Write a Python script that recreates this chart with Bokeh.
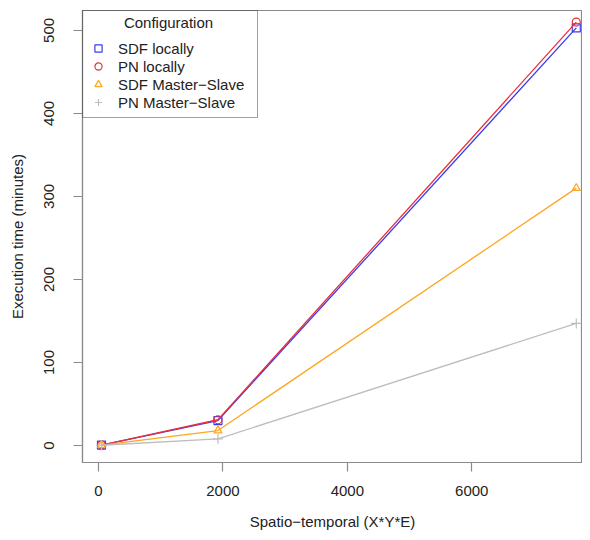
from bokeh.plotting import figure
from bokeh.models import Legend, LegendItem, FixedTicker, Range1d, Label
from bokeh.embed import file_html
from bokeh.resources import INLINE

x_vals = [48, 1920, 7680]
sdf_local = [0.5, 30, 503]
pn_local = [0.5, 31, 510]
sdf_ms = [0.4, 18, 310]
pn_ms = [0.3, 8, 147]

x_ticks = [0, 2000, 4000, 6000]
y_ticks = [0, 100, 200, 300, 400, 500]

series_names = ["SDF locally", "PN locally", "SDF Master\u2212Slave", "PN Master\u2212Slave"]
series_vals = [sdf_local, pn_local, sdf_ms, pn_ms]
colors = ["#3b3bf0", "#e8303a", "#ffa520", "#bdbdbd"]
markers = ["square", "circle", "triangle", "cross"]

FONT = "Liberation Sans"
TXT = "#222222"
AX = "#8a8a8a"

W, H = 582, 532
BL, BT, BB = 82, 10, 69
p = figure(width=W, height=H, output_backend="svg", toolbar_location=None,
           x_range=Range1d(-257, 7780), y_range=Range1d(-20.5, 524),
           min_border_left=BL, min_border_right=0, min_border_top=BT, min_border_bottom=BB)
p.background_fill_color = "white"
p.border_fill_color = "white"
p.grid.grid_line_color = None
p.outline_line_color = AX
p.outline_line_width = 1.2

items = []
for name, vals, c, m in zip(series_names, series_vals, colors, markers):
    p.line(x_vals, vals, line_color=c, line_width=1.3)
    r = p.scatter(x_vals, vals, marker=m, size=8 if m != "cross" else 10,
                  line_color=c, fill_color=None, line_width=1.2)
    items.append(LegendItem(label=name, renderers=[r]))

p.xaxis.ticker = FixedTicker(ticks=x_ticks)
p.yaxis.ticker = FixedTicker(ticks=y_ticks)
for ax in (p.xaxis, p.yaxis):
    ax.axis_line_color = AX
    ax.axis_line_width = 1.2
    ax.major_tick_line_color = AX
    ax.major_tick_line_width = 1.2
    ax.major_tick_out = 9
    ax.major_tick_in = 0
    ax.minor_tick_line_color = None
    ax.major_label_text_font = FONT
    ax.major_label_text_font_size = "15px"
    ax.major_label_text_color = TXT
    ax.axis_label_text_font = FONT
    ax.axis_label_text_font_size = "15px"
    ax.axis_label_text_color = TXT
    ax.axis_label_text_font_style = "normal"

p.xaxis.axis_label = "Spatio\u2212temporal (X*Y*E)"
p.yaxis.axis_label = "Execution time (minutes)"
p.yaxis.major_label_orientation = "vertical"
p.xaxis.major_label_standoff = 14
p.yaxis.major_label_standoff = 19
p.xaxis.axis_label_standoff = 14
p.yaxis.axis_label_standoff = 16

legend = Legend(items=items, location="top_left", margin=0, padding=6,
                title="Configuration", title_text_alpha=0.0,
                title_text_font=FONT, title_text_font_size="15px",
                title_standoff=5,
                label_text_font=FONT, label_text_font_size="15px", label_text_color=TXT,
                label_height=18, spacing=0, glyph_width=18, glyph_height=18,
                label_standoff=11, label_width=133,
                border_line_color="#444444", border_line_width=1.2,
                background_fill_color="white", background_fill_alpha=0.0)
p.add_layout(legend)

# screen units are relative to the plot frame (bottom-left origin)
frame_h = H - BT - BB
p.add_layout(Label(x=168 - BL, y=frame_h - (23 - BT), x_units="screen", y_units="screen",
                   text="Configuration", text_font=FONT, text_font_size="15px",
                   text_color=TXT, text_align="center", text_baseline="middle"))

open("out.html", "w").write(file_html(p, INLINE))
